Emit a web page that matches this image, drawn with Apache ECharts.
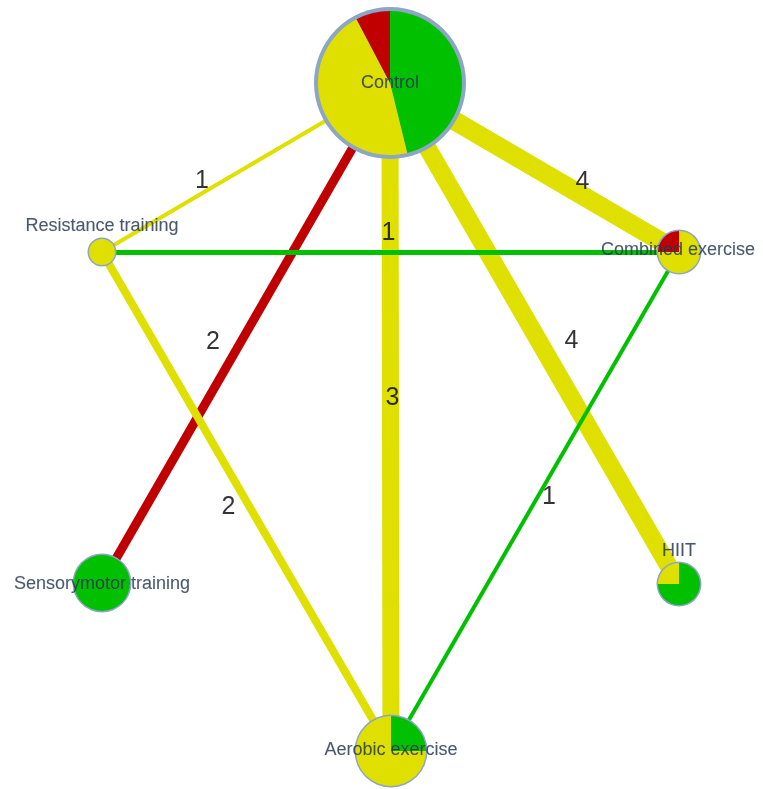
<!DOCTYPE html>
<html>
<head>
<meta charset="utf-8">
<script src="https://cdn.jsdelivr.net/npm/echarts@6/dist/echarts.min.js"></script>
<style>
  html, body { margin: 0; padding: 0; background: #fff; }
  #main { width: 763px; height: 789px; }
</style>
</head>
<body>
<div id="main"></div>
<script>
// nodes (treatments) and where they sit in the network plot
const nodeNames = ['Control', 'Resistance training', 'Combined exercise', 'Sensorymotor training', 'HIIT', 'Aerobic exercise'];
const nodeX = [390, 102, 679, 102, 679, 391];
const nodeY = [83, 252, 252, 583, 584, 751];
// risk of bias of the studies per node (pie slices)
const lowRisk = [6, 0, 0, 1, 3, 1];
const someRisk = [6, 1, 3, 0, 1, 3];
const highRisk = [1, 0, 1, 0, 0, 0];

// comparisons
const linkSource = ['Control', 'Control', 'Control', 'Control', 'Control', 'Resistance training', 'Resistance training', 'Combined exercise'];
const linkTarget = ['Resistance training', 'Sensorymotor training', 'Aerobic exercise', 'Combined exercise', 'HIIT', 'Combined exercise', 'Aerobic exercise', 'Aerobic exercise'];
const linkStudies = [1, 2, 3, 4, 4, 1, 2, 1];
const linkRisk = ['some', 'high', 'some', 'some', 'some', 'low', 'some', 'low'];

// styling
const riskColor = { low: '#00c000', some: '#e0e000', high: '#c00000' };
const borderColor = '#8ca6c6';
const nodeRadius = [72, 13, 21, 28, 21, 35];
const nodeBorder = [4, 1.5, 1.5, 1.5, 1.5, 1.5];
const nodeLabelOffset = [[0, 0], [0, -26], [-1, -2], [0, 1], [0, -33], [0, -1]];
const linkWidth = [4, 9, 17, 19, 18, 5, 8, 4];
const linkLabelOffset = [[-44, 14], [-33, 9], [2, -19], [48, 15], [37, 8], [-2, -19], [-18, 6], [14, -4]];
const font = 'Liberation Sans, Arial, Helvetica, sans-serif';

var chart = echarts.init(document.getElementById('main'));

var idx = {};
nodeNames.forEach(function (n, i) { idx[n] = i; });

var graphNodes = nodeNames.map(function (n, i) {
  return {
    name: n,
    value: [nodeX[i], nodeY[i]],
    symbolSize: 2 * (nodeRadius[i] + nodeBorder[i]),
    itemStyle: { color: borderColor }
  };
});

var graphLinks = linkSource.map(function (s, i) {
  return {
    source: s,
    target: linkTarget[i],
    lineStyle: { width: linkWidth[i], color: riskColor[linkRisk[i]], opacity: 1, curveness: 0 }
  };
});

var edgeLabels = linkSource.map(function (s, i) {
  var a = idx[s], b = idx[linkTarget[i]];
  return {
    value: [(nodeX[a] + nodeX[b]) / 2, (nodeY[a] + nodeY[b]) / 2],
    studies: linkStudies[i],
    label: { offset: linkLabelOffset[i] }
  };
});

var nodeLabels = nodeNames.map(function (n, i) {
  return { value: [nodeX[i], nodeY[i]], name: n, label: { offset: nodeLabelOffset[i] } };
});

var option = {
  animation: false,
  grid: { left: 0, right: 0, top: 0, bottom: 0 },
  xAxis: { type: 'value', min: 0, max: 763, show: false },
  yAxis: { type: 'value', min: 0, max: 789, inverse: true, show: false },
  series: [
    {
      type: 'graph',
      coordinateSystem: 'cartesian2d',
      layout: 'none',
      symbol: 'circle',
      z: 1,
      silent: true,
      label: { show: false },
      data: graphNodes,
      links: graphLinks
    },
    {
      type: 'scatter',
      z: 8,
      symbolSize: 0,
      silent: true,
      data: edgeLabels,
      label: {
        show: true,
        position: 'inside',
        formatter: function (p) { return p.data.studies; },
        color: '#000',
        fontSize: 25,
        fontFamily: font
      }
    },
    {
      type: 'scatter',
      z: 10,
      symbolSize: 0,
      silent: true,
      data: nodeLabels,
      label: {
        show: true,
        position: 'inside',
        formatter: '{b}',
        color: '#1f2f47',
        fontSize: 18,
        fontFamily: font,
        textBorderColor: 'rgba(120,140,170,0.35)',
        textBorderWidth: 0.6
      }
    }
  ]
};
chart.setOption(option);

// one pie per node, centred through the grid's scale
var pies = nodeNames.map(function (n, i) {
  var c = chart.convertToPixel({ gridIndex: 0 }, [nodeX[i], nodeY[i]]);
  return {
    type: 'pie',
    z: 5,
    center: c,
    radius: [0, nodeRadius[i]],
    startAngle: 90,
    clockwise: true,
    silent: true,
    stillShowZeroSum: false,
    label: { show: false },
    labelLine: { show: false },
    emphasis: { disabled: true },
    itemStyle: { borderWidth: 0 },
    data: [
      { name: 'low', value: lowRisk[i], itemStyle: { color: riskColor.low } },
      { name: 'some', value: someRisk[i], itemStyle: { color: riskColor.some } },
      { name: 'high', value: highRisk[i], itemStyle: { color: riskColor.high } }
    ]
  };
});
chart.setOption({ series: option.series.concat(pies) });
</script>
</body>
</html>
